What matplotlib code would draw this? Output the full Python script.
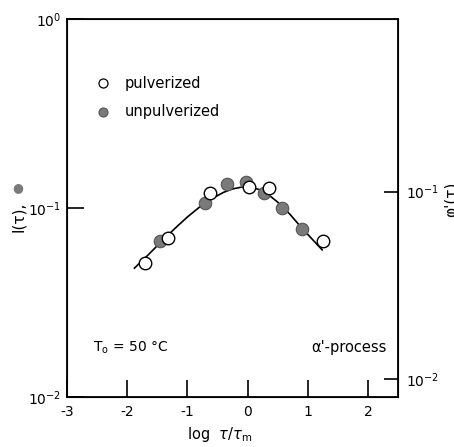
import numpy as np
import matplotlib
matplotlib.use("Agg")
import matplotlib.pyplot as plt

# pulverized (open circles)
x_pulv = [-1.70, -1.32, -0.62, 0.03, 0.35, 1.25]
y_pulv = [0.0509, 0.0696, 0.1205, 0.1297, 0.1270, 0.0671]
# unpulverized (filled circles)
x_unp = [-1.46, -0.71, -0.34, -0.02, 0.28, 0.58, 0.90]
y_unp = [0.0671, 0.1060, 0.1336, 0.1378, 0.1197, 0.0996, 0.0771]
# fitted curve
x_fit = [-1.88, -1.65, -1.4, -1.2, -1.0, -0.8, -0.6, -0.4, -0.25, -0.1, 0.0, 0.1, 0.2,
         0.35, 0.5, 0.7, 0.9, 1.1, 1.24]
y_fit = [0.048, 0.0565, 0.0680, 0.0783, 0.0896, 0.1010, 0.1118, 0.1210, 0.1262, 0.1290,
         0.1293, 0.1280, 0.1250, 0.1175, 0.1075, 0.0930, 0.0785, 0.0670, 0.0600]

x_ticks = [-3, -2, -1, 0, 1, 2]
gray = "#7a7a7a"

plt.rcParams['font.family'] = ['DejaVu Sans']
plt.rcParams['mathtext.fontset'] = 'dejavusans'

fig = plt.figure(figsize=(4.54, 4.47), dpi=100)
ax = fig.add_axes([0.1476, 0.1125, 0.729, 0.8443])

ax.plot(x_fit, y_fit, color="black", lw=1.2, zorder=2)
ax.plot(x_unp, y_unp, "o", ms=9, mfc=gray, mec="#555555", mew=0.8, zorder=3)
ax.plot(x_pulv, y_pulv, "o", ms=9, mfc="white", mec="black", mew=1.0, zorder=4)

ax.set_yscale("log")
ax.set_xlim(-3, 2.5)
ax.set_ylim(1e-2, 1)
ax.set_xticks(x_ticks)
ax.set_xticklabels([str(v) if v >= 0 else "-" + str(-v) for v in x_ticks])
ax.set_yticks([1e-2, 1e-1, 1])
ax.set_yticklabels(["$10^{-2}$", "$10^{-1}$", "$10^{0}$"])
ax.minorticks_off()
ax.tick_params(axis="both", direction="in", length=12, width=1.2, labelsize=10)
ax.tick_params(axis="x", pad=6)
ax.tick_params(axis="y", pad=4)
for s in ax.spines.values():
    s.set_linewidth(1.3)

ax.set_xlabel(r"log  $\tau/\tau_\mathrm{m}$", fontsize=10.5, labelpad=1)
ax.xaxis.set_label_coords(0.46, -0.075)

ax2 = ax.twinx()
ax2.set_yscale("log")
ax2.set_ylim(10**-2.093, 10**-0.081)
ax2.set_yticks([1e-2, 1e-1])
ax2.set_yticklabels(["$10^{-2}$", "$10^{-1}$"])
ax2.minorticks_off()
ax2.tick_params(axis="y", direction="in", length=10, width=1.2, labelsize=10, pad=6)

# legend drawn by hand
ax.plot([-2.40], [0.459], "o", ms=6.5, mfc="white", mec="black", mew=0.9)
ax.plot([-2.40], [0.323], "o", ms=6.5, mfc=gray, mec="#555555", mew=0.8)
ax.text(-2.04, 0.459, "pulverized", fontsize=10.5, va="center")
ax.text(-2.04, 0.323, "unpulverized", fontsize=10.5, va="center")

ax.text(-2.57, 0.0182, r"T$_\mathrm{o}$ = 50 °C", fontsize=10, va="center")
ax.text(2.31, 0.0182, "α'-process", fontsize=10.5, va="center", ha="right")

# axis labels
fig.text(0.04, 0.515, "I(τ),", rotation=90, fontsize=11, ha="center", va="center")
fig.text(0.04, 0.58, "●", color=gray, fontsize=9, ha="center", va="center")
fig.text(0.978, 0.553, "φ'(τ)", rotation=90, fontsize=11, ha="left", va="center")

fig.savefig("out.png", dpi=100)
